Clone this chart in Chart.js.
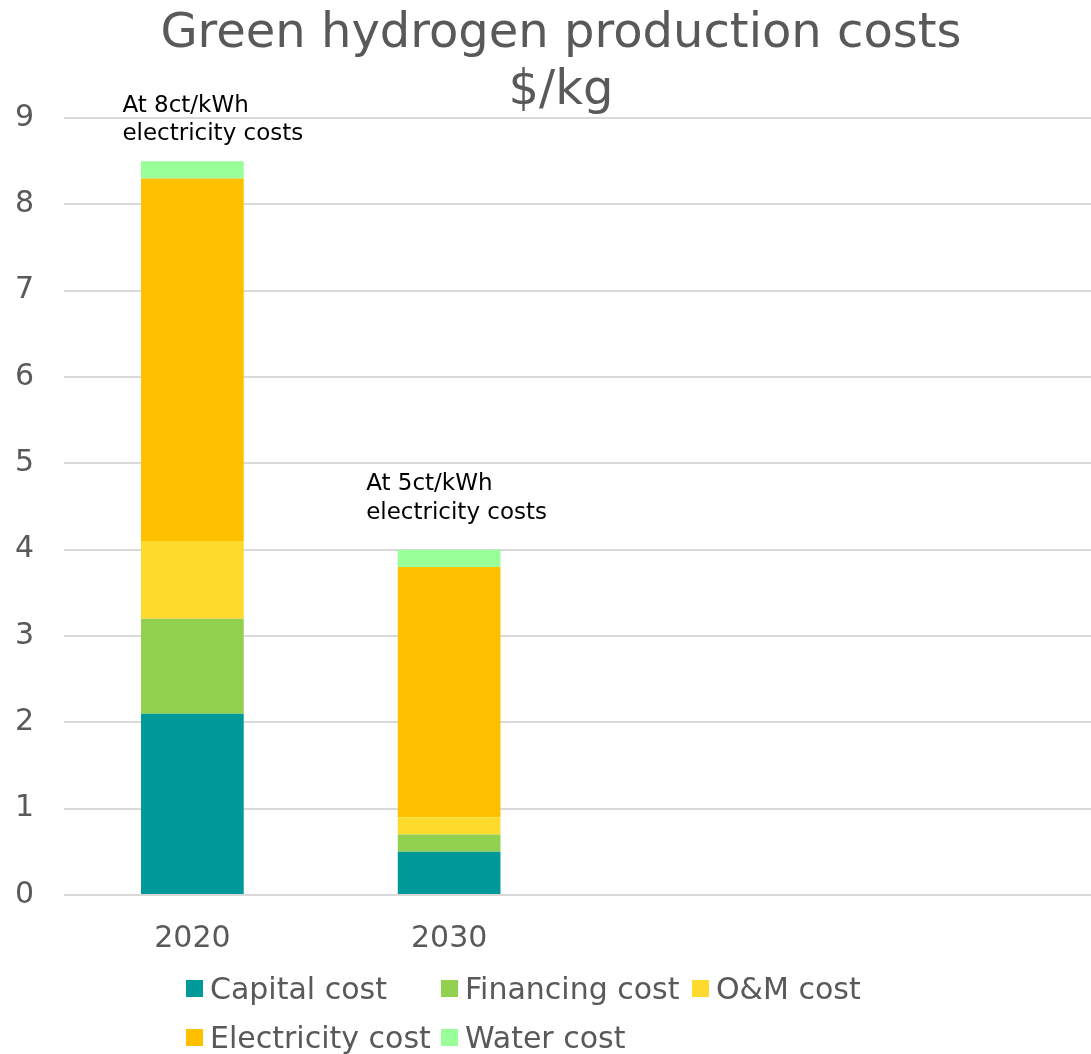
<!DOCTYPE html>
<html>
<head>
<meta charset="utf-8">
<script src="https://cdn.jsdelivr.net/npm/chart.js@4/dist/chart.umd.min.js"></script>
<style>
  html, body { margin: 0; padding: 0; background: #fff; overflow: hidden; }
  #wrap { position: relative; width: 1091px; height: 1054px; }
  #legend {
    position: absolute; left: 186px; top: 970px;
    display: grid; grid-template-columns: 255px 251px 200px;
    row-gap: 13px;
    font-family: 'DejaVu Sans', sans-serif; font-size: 30px; color: #595959;
  }
  #legend .item { display: flex; align-items: center; height: 36px; white-space: nowrap; }
  #legend .box { width: 17px; height: 17px; margin-right: 7px; flex: none; }
</style>
</head>
<body>
<div id="wrap">
  <canvas id="chart" width="1091" height="1054"></canvas>
  <div id="legend"></div>
</div>
<script>
const years = ['2020', '2030', '', ''];

const capitalCost = [2.1, 0.5];
const financingCost = [1.1, 0.2];
const omCost = [0.9, 0.2];
const electricityCost = [4.2, 2.9];
const waterCost = [0.2, 0.2];

const seriesNames = ['Capital cost', 'Financing cost', 'O&M cost', 'Electricity cost', 'Water cost'];
const seriesColors = ['#009999', '#92D050', '#FDDA2B', '#FFC000', '#99FF99'];

const yTicks = [0, 1, 2, 3, 4, 5, 6, 7, 8, 9];

const titleLines = ['Green hydrogen production costs', '$/kg'];
const noteTexts = [
  ['At 8ct/kWh', 'electricity costs'],
  ['At 5ct/kWh', 'electricity costs']
];

const grey = '#595959';
Chart.defaults.font.family = "'DejaVu Sans', sans-serif";

// title, drawn over the top of the plot like the original
const titlePlugin = {
  id: 'bigTitle',
  afterDraw(chart, args, opts) {
    const ctx = chart.ctx;
    ctx.save();
    ctx.font = opts.size + 'px "DejaVu Sans"';
    ctx.fillStyle = grey;
    ctx.textAlign = 'center';
    ctx.textBaseline = 'alphabetic';
    titleLines.forEach((t, i) => ctx.fillText(t, opts.x, opts.y + i * opts.lineGap));
    ctx.restore();
  }
};

// text notes above the bars
const notesPlugin = {
  id: 'notes',
  afterDatasetsDraw(chart, args, opts) {
    const ctx = chart.ctx;
    const x = chart.scales.x, y = chart.scales.y;
    ctx.save();
    ctx.font = '23px "DejaVu Sans"';
    ctx.fillStyle = '#000';
    ctx.textAlign = 'left';
    ctx.textBaseline = 'alphabetic';
    opts.items.forEach((it, i) => {
      const px = x.getPixelForValue(it.index) + it.dx;
      const py = y.getPixelForValue(it.value);
      noteTexts[i].forEach((line, j) => ctx.fillText(line, px, py + j * 28.5));
    });
    ctx.restore();
  }
};

const data = [capitalCost, financingCost, omCost, electricityCost, waterCost];

new Chart(document.getElementById('chart'), {
  type: 'bar',
  data: {
    labels: years,
    datasets: data.map((d, i) => ({
      label: seriesNames[i],
      data: d,
      backgroundColor: seriesColors[i],
      borderWidth: 0,
      categoryPercentage: 1,
      barPercentage: 0.4
    }))
  },
  options: {
    responsive: false,
    animation: false,
    layout: { padding: { left: 0, right: 0, top: 118, bottom: 79 } },
    scales: {
      x: {
        stacked: true,
        grid: { display: false },
        border: { display: false },
        ticks: { color: grey, font: { size: 30 }, padding: 18 }
      },
      y: {
        stacked: true,
        min: 0,
        max: 9,
        afterFit: s => { s.width = 64; },
        afterBuildTicks: s => { s.ticks = yTicks.map(v => ({ value: v })); },
        grid: { color: '#d9d9d9', lineWidth: 2, drawTicks: false },
        border: { display: false },
        ticks: { color: grey, font: { size: 30 }, padding: 30 }
      }
    },
    plugins: {
      legend: { display: false },
      tooltip: { enabled: false },
      title: { display: false },
      bigTitle: { x: 561, y: 47, lineGap: 56.5, size: 48 },
      notes: {
        items: [
          { index: 0, value: 9.07, dx: -70 },
          { index: 1, value: 4.69, dx: -83 }
        ]
      }
    }
  },
  plugins: [notesPlugin, titlePlugin]
});

const legend = document.getElementById('legend');
seriesNames.forEach((name, i) => {
  const item = document.createElement('div');
  item.className = 'item';
  const box = document.createElement('span');
  box.className = 'box';
  box.style.background = seriesColors[i];
  item.appendChild(box);
  item.appendChild(document.createTextNode(name));
  legend.appendChild(item);
});
</script>
</body>
</html>
